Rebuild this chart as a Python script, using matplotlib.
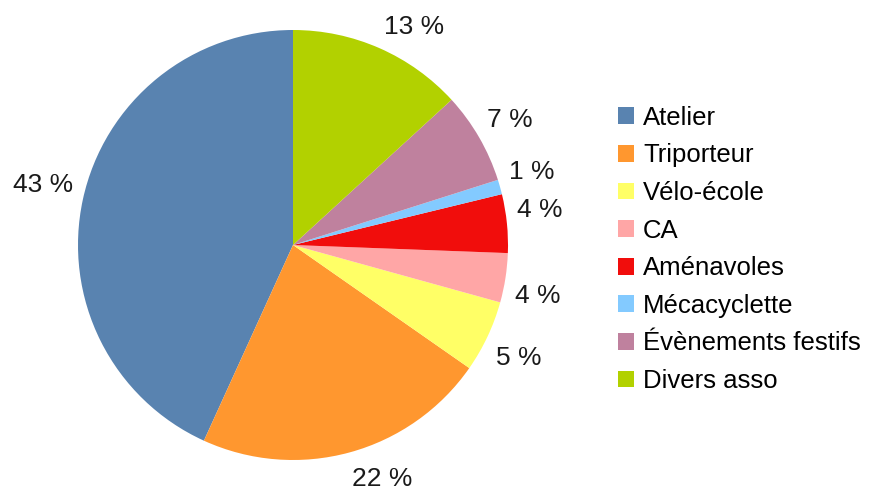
import matplotlib
matplotlib.use("Agg")
import matplotlib.pyplot as plt
import numpy as np

plt.rcParams["font.family"] = ["Liberation Sans", "DejaVu Sans"]

categories = ["Atelier", "Triporteur", "Vélo-école", "CA", "Aménavoles",
              "Mécacyclette", "Évènements festifs", "Divers asso"]
values = [43.2, 22.1, 5.4, 3.7, 4.4, 1.1, 6.9, 13.2]
colors = ["#5983b0", "#ff972f", "#ffff66", "#ffa6a6", "#f10d0c",
          "#83caff", "#bf819e", "#b2d100"]


def plot():
    fig = plt.figure(figsize=(8.8, 4.91), dpi=100)
    ax = fig.add_axes([78 / 880, 31 / 491, 430 / 880, 430 / 491])

    wedges, _ = ax.pie(values, colors=colors, startangle=90, counterclock=True)
    ax.set_xlim(-1, 1)
    ax.set_ylim(-1, 1)
    ax.set_aspect("equal")

    # étiquettes à l'extérieur, collées au bord comme dans LibreOffice
    total = sum(values)
    for w, v in zip(wedges, values):
        ang = np.deg2rad((w.theta1 + w.theta2) / 2)
        c, s = np.cos(ang), np.sin(ang)
        ha = "left" if c >= 0 else "right"
        va = "bottom" if s >= 0 else "top"
        dy = 0 if s >= 0 else -3.5
        ax.annotate(f"{v / total * 100:.0f} %", xy=(1.045 * c, 1.045 * s),
                    xytext=(0, dy), textcoords="offset points",
                    ha=ha, va=va, fontsize=19, color="#1a1a1a",
                    annotation_clip=False)

    fig.legend(wedges, categories, loc="center left",
               bbox_to_anchor=(618 / 880, 0.492), frameon=False,
               fontsize=18.5, handlelength=0.62, handleheight=0.62,
               handletextpad=0.36, labelspacing=0.53,
               borderpad=0, borderaxespad=0)

    fig.savefig("out.png", dpi=100)


if __name__ == "__main__":
    plot()
